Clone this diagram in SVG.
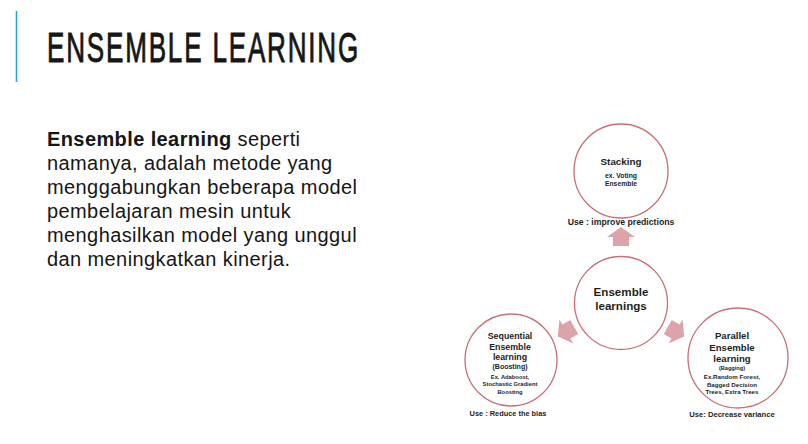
<svg xmlns="http://www.w3.org/2000/svg" width="808" height="444" viewBox="0 0 808 444">
  <style>
    .bg { fill: #ffffff; }
    .title { font-family: "Liberation Sans", Arial, sans-serif; font-size: 42px; fill: #161616; stroke: #161616; stroke-width: 0.9px; }
    .body { font-family: "Liberation Sans", Arial, sans-serif; font-size: 20px; letter-spacing: 0.4px; fill: #161616; }
    .node { fill: #ffffff; stroke: #c96f76; stroke-width: 1.3; }
    .lbl { font-family: "Liberation Sans", Arial, sans-serif; font-weight: bold; fill: #1e1e1e; text-anchor: middle; }
    .arrow { fill: #dca4a8; }
  </style>
  <defs>
    <!-- block arrow pointing up, rotated about the hub centre for the other two -->
    <path id="upArrow" class="arrow" d="M621,227 L635,237 L629,237 L629,246 L613,246 L613,237 L607,237 Z"/>
  </defs>

  <rect class="bg" x="0" y="0" width="808" height="444"/>

  <!-- heading -->
  <g id="heading">
    <line x1="16.5" y1="11" x2="16.5" y2="82" stroke="#1ea7e1" stroke-width="1.6"/>
    <!-- narrow, spaced capitals -->
    <text class="title" transform="translate(47 62) scale(0.62 1)" x="0" y="0" textLength="502" lengthAdjust="spacing">ENSEMBLE LEARNING</text>
  </g>

  <!-- description paragraph -->
  <g id="description">
    <text class="body" x="47" y="146"><tspan font-weight="bold">Ensemble learning</tspan> seperti</text>
    <text class="body" x="47" y="170">namanya, adalah metode yang</text>
    <text class="body" x="47" y="194">menggabungkan beberapa model</text>
    <text class="body" x="47" y="218">pembelajaran mesin untuk</text>
    <text class="body" x="47" y="242">menghasilkan model yang unggul</text>
    <text class="body" x="47" y="266">dan meningkatkan kinerja.</text>
  </g>

  <!-- diverging arrows from the hub -->
  <g id="connectors">
    <use href="#upArrow"/>
    <use href="#upArrow" transform="rotate(-120 621 300)"/>
    <use href="#upArrow" transform="rotate(120 621 300)"/>
  </g>

  <g id="stacking">
    <circle class="node" cx="621" cy="171" r="47"/>
    <text class="lbl" x="621" y="165" font-size="9.8">Stacking</text>
    <text class="lbl" x="621" y="178" font-size="6.8">ex. Voting</text>
    <text class="lbl" x="621" y="186" font-size="6.8">Ensemble</text>
    <text class="lbl" x="621" y="225" font-size="8.7">Use : improve predictions</text>
  </g>

  <g id="hub">
    <circle class="node" cx="621" cy="303" r="46.5"/>
    <text class="lbl" x="621" y="296" font-size="11.6">Ensemble</text>
    <text class="lbl" x="621" y="309.5" font-size="11.6">learnings</text>
  </g>

  <g id="sequential">
    <circle class="node" cx="511" cy="360" r="46"/>
    <text class="lbl" x="510" y="339" font-size="8.8">Sequential</text>
    <text class="lbl" x="510" y="349.5" font-size="8.8">Ensemble</text>
    <text class="lbl" x="510" y="360" font-size="8.8">learning</text>
    <text class="lbl" x="510" y="369" font-size="7">(Boosting)</text>
    <text class="lbl" x="510" y="378.5" font-size="5.8">Ex. Adaboost,</text>
    <text class="lbl" x="510" y="386" font-size="5.8">Stochastic Gradient</text>
    <text class="lbl" x="510" y="393.5" font-size="5.8">Boosting</text>
    <text class="lbl" x="508" y="416" font-size="7.4">Use : Reduce the bias</text>
  </g>

  <g id="parallel">
    <circle class="node" cx="738" cy="358" r="50"/>
    <text class="lbl" x="732" y="339" font-size="9.6">Parallel</text>
    <text class="lbl" x="732" y="350.5" font-size="9.6">Ensemble</text>
    <text class="lbl" x="732" y="361.5" font-size="9.6">learning</text>
    <text class="lbl" x="732" y="370" font-size="5.6">(Bagging)</text>
    <text class="lbl" x="732" y="379" font-size="6.2">Ex.Random Forest,</text>
    <text class="lbl" x="732" y="386.5" font-size="6.2">Bagged Decision</text>
    <text class="lbl" x="732" y="394" font-size="6.2">Trees, Extra Trees</text>
    <text class="lbl" x="732" y="417" font-size="7.6">Use: Decrease variance</text>
  </g>
</svg>
